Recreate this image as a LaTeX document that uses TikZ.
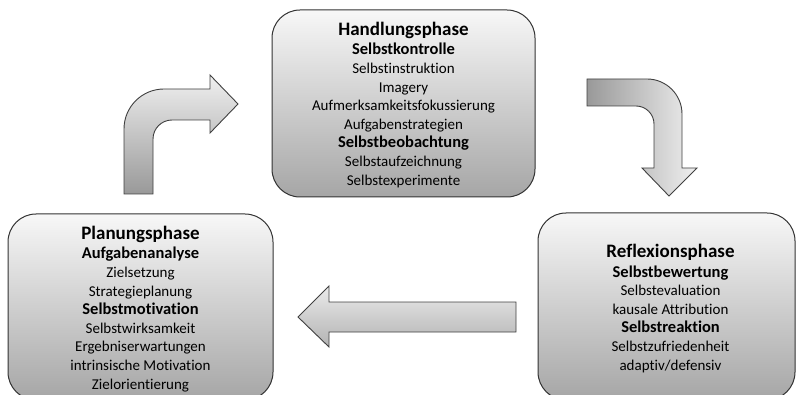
\documentclass[tikz,border=0pt]{standalone}
\usepackage{fontspec}
\setmainfont{Carlito}[Ligatures=NoCommon]

\newcommand{\phasetitle}[1]{{\fontsize{19}{20}\selectfont\bfseries #1}}
\newcommand{\phasestep}[1]{{\fontsize{16.5}{18}\selectfont\bfseries #1}}

\begin{document}
\begin{tikzpicture}[x=1pt, y=-1pt,
    phase/.style={draw=black!80, line width=1pt, rounded corners=28pt,
        top color=black!3, bottom color=black!35},
    phasetext/.style={align=center, font=\fontsize{15}{18.6}\selectfont, inner sep=0pt},
    blockarrow/.style={draw=black!75, line width=0.9pt}]
            \useasboundingbox (0,0) rectangle (797,395);

            \node[phase, minimum width=263pt, minimum height=187pt] (hand) at (403.5,103.5) {};
            \node[phasetext] (handtext) at ([yshift=-1.5pt]hand.center)
                {\phasetitle{Handlungsphase}\\[0.5pt]
                 \phasestep{Selbstkontrolle}\\
                 Selbstinstruktion\\
                 Imagery\\
                 Aufmerksamkeitsfokussierung\\
                 Aufgabenstrategien\\
                 \phasestep{Selbstbeobachtung}\\
                 Selbstaufzeichnung\\
                 Selbstexperimente};
            \node[phase, minimum width=265pt, minimum height=186pt] (plan) at (140.5,307) {};
            \node[phasetext] (plantext) at ([yshift=-2pt]plan.center)
                {\phasetitle{Planungsphase}\\[0.5pt]
                 \phasestep{Aufgabenanalyse}\\
                 Zielsetzung\\
                 Strategieplanung\\
                 \phasestep{Selbstmotivation}\\
                 Selbstwirksamkeit\\
                 Ergebniserwartungen\\
                 intrinsische Motivation\\
                 Zielorientierung};
            \node[phase, minimum width=257pt, minimum height=187pt] (refl) at (666.5,306.5) {};
            \node[phasetext] (refltext) at ([xshift=4pt, yshift=-2pt]refl.center)
                {\phasetitle{Reflexionsphase}\\[0.5pt]
                 \phasestep{Selbstbewertung}\\
                 Selbstevaluation\\
                 kausale Attribution\\
                 \phasestep{Selbstreaktion}\\
                 Selbstzufriedenheit\\
                 adaptiv/defensiv};

            % Planung -> Handlung
            \draw[blockarrow, top color=black!6, bottom color=black!40]
                (124,194) -- (124,129) .. controls (124,106.9) and (141.9,89) .. (164,89)
                -- (210,89) -- (210,75) -- (238,104) -- (210,133) -- (210,120) -- (172,120)
                .. controls (161.5,120) and (153,128.5) .. (153,139) -- (153,194) -- cycle;
            % Handlung -> Reflexion
            \draw[blockarrow, left color=black!40, right color=black!6]
                (587,79) -- (647,79) .. controls (666.3,79) and (682,94.7) .. (682,114)
                -- (682,168) -- (697,168) -- (669,196) -- (642,168) -- (654,168) -- (654,124)
                .. controls (654,114.1) and (645.9,106) .. (636,106) -- (587,106) -- cycle;
            % Reflexion -> Planung
            \draw[blockarrow, top color=black!8, bottom color=black!30]
                (516,302) -- (329,302) -- (329,286) -- (298,317) -- (329,347) -- (329,332)
                -- (516,332) -- cycle;
        \end{tikzpicture}
\end{document}
